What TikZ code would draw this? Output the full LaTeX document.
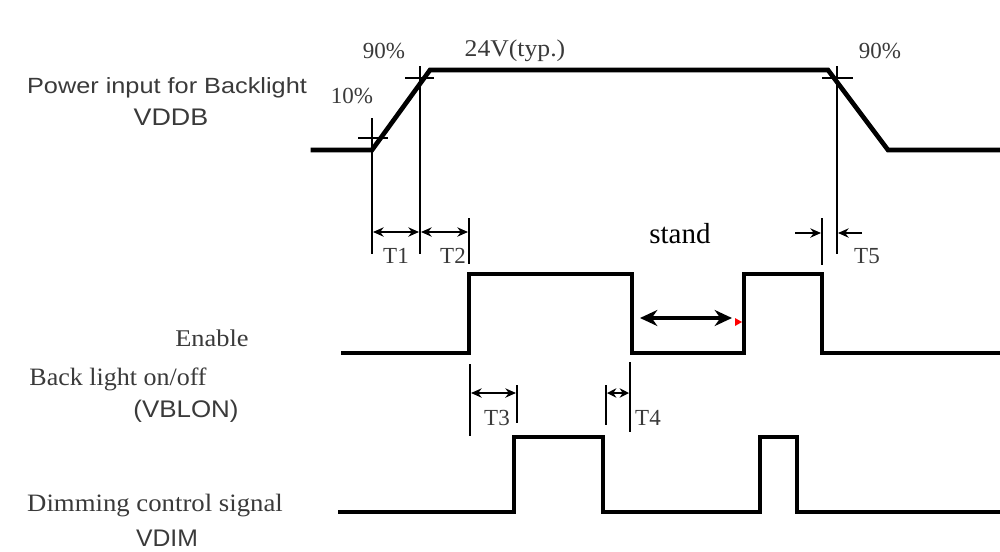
\documentclass[tikz,border=0pt]{standalone}
\usepackage{fontspec}
\setmainfont{Liberation Serif}
\setsansfont{Liberation Sans}
\usetikzlibrary{arrows.meta}
\definecolor{txt}{HTML}{3A3A3A}
\tikzset{
  sig/.style={line width=3.5pt, line join=miter, line cap=rect},
  thin/.style={line width=1.1pt, draw=black},
  dim/.style={line width=1.1pt, {Stealth[length=8pt,width=7pt]}-{Stealth[length=8pt,width=7pt]}},
  lbl/.style={text=txt, inner sep=0pt},
}
\begin{document}
\begin{tikzpicture}[x=0.75pt,y=-0.75pt]
\useasboundingbox (0,0) rectangle (1000,551);
\fill[white] (0,0) rectangle (1000,551);

% ---------- VDDB ----------
\draw[sig] (313,150) -- (372,150) -- (430,70) -- (828,70) -- (888,150) -- (1000,150);
% cross marks
\draw[thin] (372,118) -- (372,254);
\draw[thin] (358,138) -- (388,138);
\draw[thin] (420,66) -- (420,254);
\draw[thin] (405,78) -- (434,78);
\draw[thin] (837,66) -- (837,254);
\draw[thin] (822,78) -- (853,78);

% T1, T2
\draw[dim] (373,232) -- (419,232);
\draw[dim] (421,232) -- (468,232);
\draw[thin] (469,218) -- (469,264);
% T5
\draw[thin] (822,218) -- (822,265);
\draw[line width=1.1pt,-{Stealth[length=8pt,width=7pt]}] (795,233) -- (821,233);
\draw[line width=1.1pt,-{Stealth[length=8pt,width=7pt]}] (862,233) -- (838,233);

% ---------- Enable ----------
\draw[sig] (343,353) -- (469,353) -- (469,274) -- (632,274) -- (632,353) -- (744,353) -- (744,274) -- (822,274) -- (822,353) -- (1000,353);
\draw[line width=3pt, {Stealth[length=13pt,width=12pt]}-{Stealth[length=13pt,width=12pt]}] (640,318) -- (732,318);
\fill[red] (735,318) -- (742,322) -- (735,326) -- cycle;

% T3, T4
\draw[thin] (470,364) -- (470,436);
\draw[thin] (517,385) -- (517,423);
\draw[dim] (471,393) -- (516,393);
\draw[thin] (606,385) -- (606,425);
\draw[thin] (630,362) -- (630,432);
\draw[line width=1.1pt, {Stealth[length=7pt,width=7pt]}-{Stealth[length=7pt,width=7pt]}] (607,393) -- (629,393);

% ---------- VDIM ----------
\draw[sig] (340,512) -- (514,512) -- (514,437) -- (603,437) -- (603,512) -- (760,512) -- (760,437) -- (797,437) -- (797,512) -- (1000,512);

% ---------- labels ----------
\node[lbl,font=\sffamily\fontsize{16.5}{18}\selectfont] (pwr) at (167,88) {\scalebox{1.15}[1]{Power input for Backlight}};
\node[lbl,font=\sffamily\fontsize{18}{20}\selectfont] (vddb) at (171,117) {\scalebox{1.12}[1]{VDDB}};
\node[lbl,font=\fontsize{17.25}{19}\selectfont] (p90a) at (384,51) {90\%};
\node[lbl,font=\fontsize{18}{20}\selectfont] (typ) at (515,51) {\scalebox{1.07}[1]{24V(typ.)}};
\node[lbl,font=\fontsize{17.25}{19}\selectfont] (p10) at (352,96) {10\%};
\node[lbl,font=\fontsize{17.25}{19}\selectfont] (p90b) at (880,51) {90\%};
\node[lbl,font=\fontsize{17.25}{19}\selectfont] (t1) at (396,256) {T1};
\node[lbl,font=\fontsize{17.25}{19}\selectfont] (t2) at (453,256) {T2};
\node[lbl,font=\fontsize{17.25}{19}\selectfont] (t5) at (867,256) {T5};
\node[inner sep=0pt,font=\fontsize{21.75}{24}\selectfont] (stand) at (680,234) {stand};
\node[lbl,font=\fontsize{18}{20}\selectfont] (en) at (212,338) {\scalebox{1.1}[1]{Enable}};
\node[lbl,font=\fontsize{18.75}{21}\selectfont] (bl) at (118,379) {\scalebox{1.04}[1]{Back light on/off}};
\node[lbl,font=\sffamily\fontsize{18}{20}\selectfont] (vblon) at (186,411) {\scalebox{1.08}[1]{(VBLON)}};
\node[lbl,font=\fontsize{17.25}{19}\selectfont] (t3) at (497,418) {T3};
\node[lbl,font=\fontsize{17.25}{19}\selectfont] (t4) at (648,418) {T4};
\node[lbl,font=\fontsize{18.75}{21}\selectfont] (dim) at (155,506) {\scalebox{1.07}[1]{Dimming control signal}};
\node[lbl,font=\sffamily\fontsize{18}{20}\selectfont] (vdim) at (167,538) {\scalebox{1.03}[1]{VDIM}};
\end{tikzpicture}
\end{document}
